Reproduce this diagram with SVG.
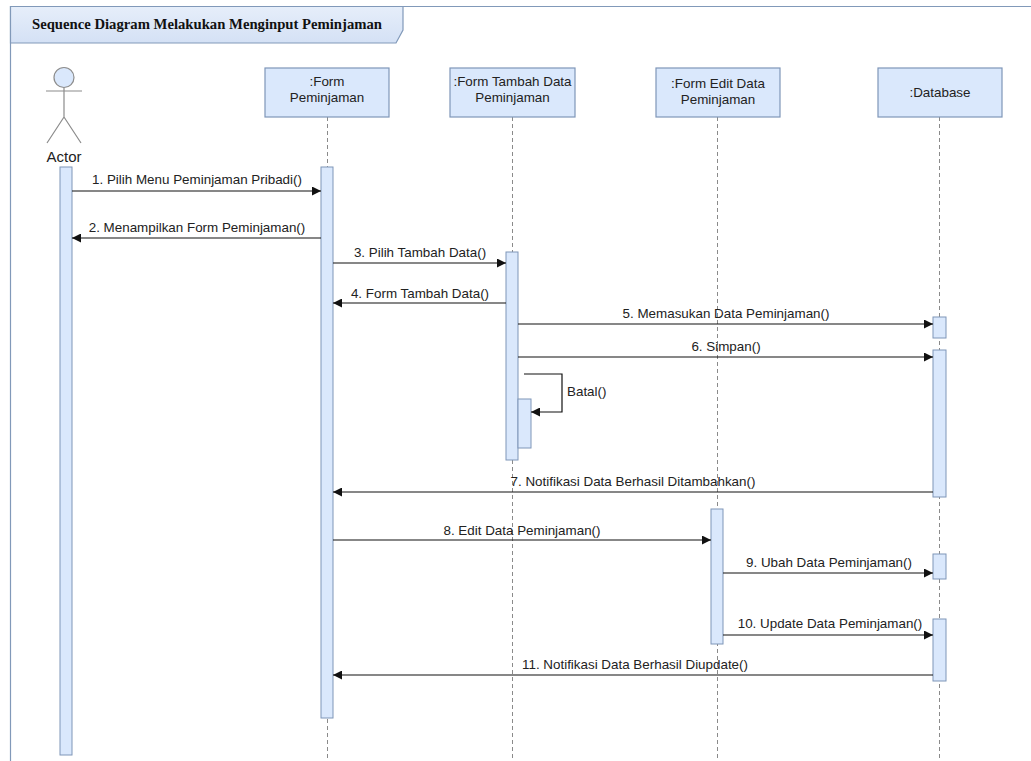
<svg xmlns="http://www.w3.org/2000/svg" width="1031" height="761" viewBox="0 0 1031 761">
<style>
.box{fill:#dae8fc;stroke:#7f96b8;stroke-width:1.2}
.act{fill:#dae8fc;stroke:#7f96b8;stroke-width:1}
.life{stroke:#8a8a8a;stroke-width:1;stroke-dasharray:4 3;fill:none}
.msg{stroke:#111;stroke-width:1.2;fill:none;marker-end:url(#arr)}
.t{font-family:"Liberation Sans",Arial,sans-serif;font-size:13.4px;fill:#222}
.m{text-anchor:middle}
.actor{stroke:#8c8c8c;stroke-width:1.2;fill:none}
</style>
<defs>
<marker id="arr" viewBox="0 0 10 10" refX="10" refY="5" markerWidth="12" markerHeight="9" markerUnits="userSpaceOnUse" orient="auto">
<path d="M0,0 L10,5 L0,10 z" fill="#111"/>
</marker>
<linearGradient id="tab" x1="0" y1="0" x2="0" y2="1">
<stop offset="0" stop-color="#e6eefa"/>
<stop offset="1" stop-color="#d4e1f5"/>
</linearGradient>
</defs>
<rect width="1031" height="761" fill="#fff"/>
<g id="frame">
<path d="M10.5,770 V6.5 H1040" fill="none" stroke="#8199b9" stroke-width="1.2"/>
<path d="M10.5,6.5 H403 V30 L396,43 H10.5 Z" fill="url(#tab)" stroke="#8199b9" stroke-width="1.2"/>
<text x="207" y="29" text-anchor="middle" textLength="350" lengthAdjust="spacingAndGlyphs" font-family="'Liberation Serif','Times New Roman',serif" font-weight="bold" font-size="14.5" fill="#111">Sequence Diagram Melakukan Menginput Peminjaman</text>
</g>
<g id="actor">
<circle cx="64" cy="77.5" r="10" fill="#dae8fc" stroke="#8c8c8c" stroke-width="1.2"/>
<path class="actor" d="M64,87.5 V117 M46,91 H82 M64,117 L47,143 M64,117 L81,143"/>
<text class="t m" x="64" y="162" style="font-size:15px">Actor</text>
<rect class="act" x="60" y="167" width="12" height="588"/>
</g>
<g id="formPeminjaman">
<line class="life" x1="327.5" y1="117" x2="327.5" y2="761"/>
<rect class="box" x="265" y="68" width="124" height="49"/>
<text class="t m" x="327" y="86">:Form</text>
<text class="t m" x="327" y="102">Peminjaman</text>
<rect class="act" x="321" y="167" width="12" height="551"/>
</g>
<g id="formTambah">
<line class="life" x1="512.5" y1="117" x2="512.5" y2="761"/>
<rect class="box" x="450" y="68" width="125" height="49"/>
<text class="t m" x="512.5" y="86">:Form Tambah Data</text>
<text class="t m" x="512.5" y="102">Peminjaman</text>
<rect class="act" x="506" y="252" width="12" height="208"/>
<rect class="act" x="518" y="399" width="13" height="49"/>
</g>
<g id="formEdit">
<line class="life" x1="717.5" y1="117" x2="717.5" y2="761"/>
<rect class="box" x="656" y="68" width="124" height="49"/>
<text class="t m" x="718" y="88">:Form Edit Data</text>
<text class="t m" x="718" y="104">Peminjaman</text>
<rect class="act" x="711" y="509" width="12" height="135"/>
</g>
<g id="database">
<line class="life" x1="939.5" y1="117" x2="939.5" y2="761"/>
<rect class="box" x="878" y="68" width="124" height="49"/>
<text class="t m" x="940" y="97">:Database</text>
<rect class="act" x="933" y="317" width="13" height="21"/>
<rect class="act" x="933" y="350" width="13" height="147"/>
<rect class="act" x="933" y="554" width="13" height="25"/>
<rect class="act" x="933" y="619" width="13" height="62"/>
</g>
<g id="connectors">
<line class="msg" x1="72" y1="191" x2="321" y2="191"/>
<text class="t m" x="197" y="184">1. Pilih Menu Peminjaman Pribadi()</text>
<line class="msg" x1="321" y1="238" x2="72" y2="238"/>
<text class="t m" x="197" y="232">2. Menampilkan Form Peminjaman()</text>
<line class="msg" x1="333" y1="263" x2="506" y2="263"/>
<text class="t m" x="420" y="257">3. Pilih Tambah Data()</text>
<line class="msg" x1="506" y1="303" x2="333" y2="303"/>
<text class="t m" x="420" y="298">4. Form Tambah Data()</text>
<line class="msg" x1="518" y1="324" x2="933" y2="324"/>
<text class="t m" x="726" y="318">5. Memasukan Data Peminjaman()</text>
<line class="msg" x1="518" y1="357" x2="933" y2="357"/>
<text class="t m" x="726" y="351">6. Simpan()</text>
<path class="msg" d="M524,374 H562 V412 H531"/>
<text class="t" x="567" y="396">Batal()</text>
<line class="msg" x1="933" y1="492" x2="333" y2="492"/>
<text class="t m" x="633" y="486">7. Notifikasi Data Berhasil Ditambahkan()</text>
<line class="msg" x1="333" y1="540" x2="711" y2="540"/>
<text class="t m" x="522" y="535">8. Edit Data Peminjaman()</text>
<line class="msg" x1="723" y1="573" x2="933" y2="573"/>
<text class="t m" x="829" y="567">9. Ubah Data Peminjaman()</text>
<line class="msg" x1="723" y1="635" x2="933" y2="635"/>
<text class="t m" x="830" y="628">10. Update Data Peminjaman()</text>
<line class="msg" x1="933" y1="675" x2="333" y2="675"/>
<text class="t m" x="635" y="669">11. Notifikasi Data Berhasil Diupdate()</text>
</g>
</svg>
